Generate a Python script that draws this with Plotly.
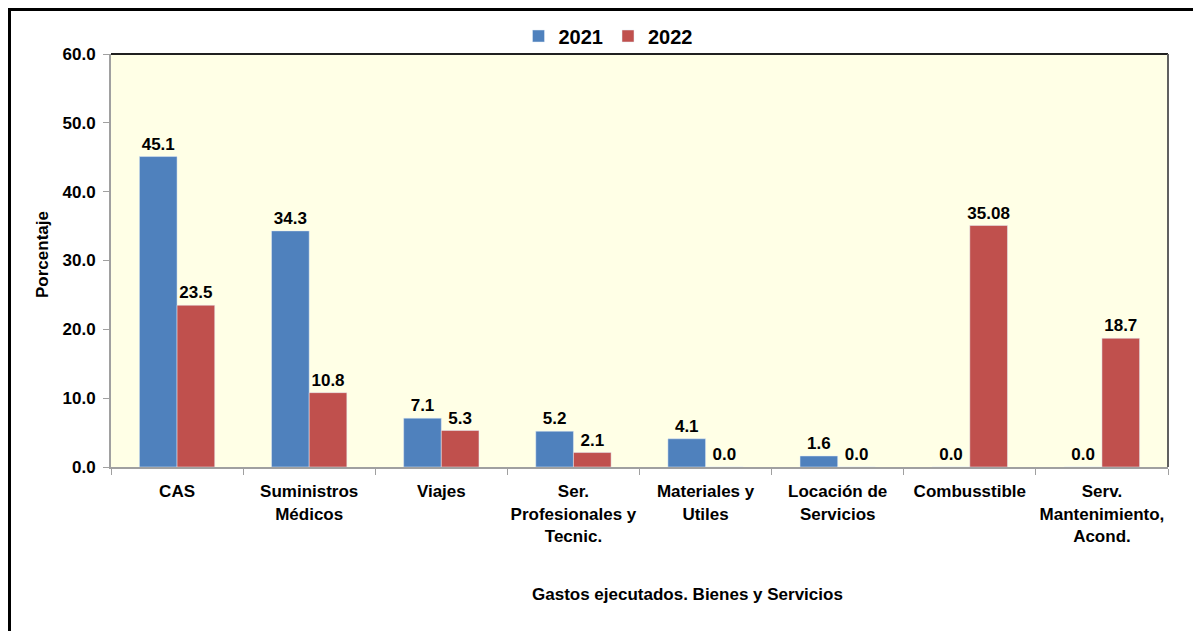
import plotly.graph_objects as go

categories = ["CAS", "Suministros<br>Médicos", "Viajes", "Ser.<br>Profesionales y<br>Tecnic.",
              "Materiales y<br>Utiles", "Locación de<br>Servicios", "Combusstible",
              "Serv.<br>Mantenimiento,<br>Acond."]
values_2021 = [45.1, 34.3, 7.1, 5.2, 4.1, 1.6, 0.0, 0.0]
values_2022 = [23.5, 10.8, 5.3, 2.1, 0.0, 0.0, 35.08, 18.7]
labels_2021 = ["45.1", "34.3", "7.1", "5.2", "4.1", "1.6", "0.0", "0.0"]
labels_2022 = ["23.5", "10.8", "5.3", "2.1", "0.0", "0.0", "35.08", "18.7"]
y_ticks = [0, 10, 20, 30, 40, 50, 60]

FONT = "Liberation Sans, Arial, sans-serif"
OFF = 8  # page body margin
W, H = 1201 - OFF, 631 - OFF
# reference pixel coordinates of the plot area
X0, X1, Y0, Y1 = 111, 1168, 54, 467
L, T = X0 - OFF, Y0 - OFF
R = W - (X1 - OFF)
B = H - (Y1 - OFF)
pw, ph = W - L - R, H - T - B

def px(x):
    return (x - X0) / pw

def py(y):
    return (Y1 - y) / ph

fig = go.Figure()
fig.add_trace(go.Bar(name="2021", x=categories, y=values_2021, marker_color="#4F81BD",
                     text=labels_2021, textposition="outside", cliponaxis=False,
                     constraintext="none",
                     textfont=dict(family=FONT, size=17, color="black")))
fig.add_trace(go.Bar(name="2022", x=categories, y=values_2022, marker_color="#C0504D",
                     text=labels_2022, textposition="outside", cliponaxis=False,
                     constraintext="none",
                     textfont=dict(family=FONT, size=17, color="black")))

fig.update_layout(
    width=W, height=H,
    margin=dict(l=L, r=R, t=T, b=B, autoexpand=False),
    paper_bgcolor="white", plot_bgcolor="#FFFFE6",
    barmode="group", bargap=0.43, bargroupgap=0,
    font=dict(family=FONT, size=17, color="black", weight="bold"),
    legend=dict(orientation="h", x=px(608), y=py(36), xanchor="center", yanchor="middle",
                font=dict(size=20, weight="bold"), itemwidth=30, traceorder="normal",
                bgcolor="rgba(0,0,0,0)"),
    showlegend=True,
    xaxis=dict(showline=True, linecolor="#A0A0A0", linewidth=2, ticks="outside",
               tickson="boundaries", ticklen=6, tickcolor="#A0A0A0",
               ticklabelstandoff=8, tickangle=0,
               tickfont=dict(size=17, weight="bold"), showgrid=False),
    yaxis=dict(range=[0, 60], tickvals=y_ticks, tickformat=".1f", showline=True,
               linecolor="#A0A0A0", linewidth=2, ticks="outside", ticklen=6,
               tickcolor="#A0A0A0", showgrid=False, zeroline=False,
               ticklabelstandoff=4,
               tickfont=dict(size=17, weight="bold")),
)

# plot area top/right border
fig.add_shape(type="line", xref="paper", yref="paper", x0=0, x1=1, y0=1, y1=1,
              line=dict(color="#202020", width=2))
fig.add_shape(type="line", xref="paper", yref="paper", x0=1, x1=1, y0=0, y1=1,
              line=dict(color="#606060", width=2))
# outer frame (as close to the reference position as the page allows)
fig.add_shape(type="rect", xref="paper", yref="paper", x0=px(9.5), x1=px(1210),
              y0=py(640), y1=py(9.5), line=dict(color="black", width=3), layer="above")

fig.add_annotation(text="Porcentaje", xref="paper", yref="paper", x=px(42), y=py(255),
                   textangle=-90, showarrow=False, xanchor="center", yanchor="middle",
                   font=dict(size=17, weight="bold"))
fig.add_annotation(text="Gastos ejecutados. Bienes y Servicios", xref="paper", yref="paper",
                   x=px(687), y=py(594), showarrow=False, xanchor="center", yanchor="middle",
                   font=dict(size=17, weight="bold"))

fig.write_html("out.html")
